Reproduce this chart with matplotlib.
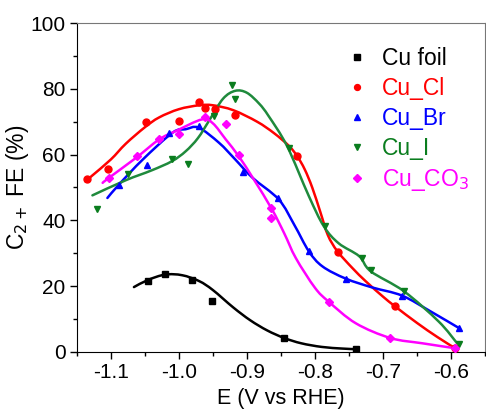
# C2+ Faradaic efficiency vs potential for the Cu catalysts
# markers = measured points, lines = smooth fit curves read off the figure

import matplotlib.pyplot as plt
from matplotlib.path import Path
from matplotlib.patches import PathPatch
from matplotlib.ticker import MultipleLocator

plt.rcParams['font.family'] = ['Liberation Sans', 'DejaVu Sans']

labels = ['Cu foil', 'Cu_Cl', 'Cu_Br', 'Cu_I', 'Cu_CO$_3$']
colors = ['black', '#ff0000', '#0000ff', '#0a7d1e', '#ff00ff']
line_colors = ['black', '#ff0000', '#0000ff', '#1f8a3c', '#ff00ff']
markers = ['s', 'o', '^', 'v', 'D']

# measured points
foil_x = [-1.045, -1.021, -0.980, -0.951, -0.845, -0.739]
foil_y = [21.7, 23.6, 21.8, 15.6, 4.2, 0.8]
cl_x = [-1.135, -1.104, -1.049, -1.000, -0.971, -0.962, -0.947, -0.917, -0.826, -0.766, -0.682, -0.594]
cl_y = [52.6, 55.7, 70.0, 70.2, 76.1, 74.3, 73.8, 72.0, 59.5, 30.4, 13.8, 1.1]
br_x = [-1.088, -1.047, -1.015, -0.971, -0.905, -0.855, -0.809, -0.755, -0.672, -0.588]
br_y = [50.9, 56.8, 66.7, 68.7, 54.8, 46.8, 30.6, 22.3, 17.1, 7.2]
i_x = [-1.120, -1.074, -1.010, -0.987, -0.949, -0.922, -0.918, -0.838, -0.785, -0.731, -0.718, -0.669, -0.588]
i_y = [43.3, 54.2, 58.7, 57.0, 71.7, 81.1, 77.0, 62.1, 38.2, 28.6, 25.0, 18.4, 2.3]
co3_x = [-1.103, -1.061, -1.029, -1.000, -0.962, -0.931, -0.912, -0.864, -0.864, -0.780, -0.689, -0.594]
co3_y = [52.9, 59.5, 64.6, 66.3, 71.5, 69.2, 59.8, 43.8, 40.8, 15.3, 4.2, 1.1]

# fit curves
foil_fx = [-1.066, -1.045, -1.020, -0.995, -0.970, -0.950, -0.920, -0.895, -0.870, -0.845, -0.820, -0.790, -0.760, -0.739]
foil_fy = [19.7, 21.9, 23.5, 23.3, 21.5, 18.8, 13.5, 9.6, 6.5, 4.2, 2.6, 1.5, 1.0, 0.8]
cl_fx = [-1.137, -1.128, -1.100, -1.078, -1.050, -1.029, -1.000, -0.970, -0.950, -0.920, -0.885, -0.860,
         -0.838, -0.826, -0.815, -0.804, -0.792, -0.781, -0.767, -0.745, -0.725, -0.700, -0.682, -0.650, -0.620, -0.594]
cl_fy = [51.8, 53.5, 58.5, 63.3, 68.3, 71.3, 73.8, 75.0, 75.0, 73.5, 70.0, 66.5,
         62.6, 59.5, 55.5, 50.0, 42.5, 35.5, 30.6, 25.5, 21.4, 16.8, 13.8, 8.8, 4.5, 1.1]
br_fx = [-1.105, -1.088, -1.053, -1.009, -0.990, -0.971, -0.941, -0.917, -0.892, -0.853,
         -0.830, -0.809, -0.789, -0.755, -0.716, -0.672, -0.630, -0.588]
br_fy = [46.8, 50.9, 58.5, 66.7, 67.7, 68.2, 63.6, 58.5, 53.0, 46.3,
         38.5, 30.6, 26.0, 22.3, 19.6, 17.1, 12.3, 7.2]
i_fx = [-1.127, -1.078, -1.040, -1.010, -0.990, -0.972, -0.955, -0.935, -0.917, -0.900, -0.882, -0.868, -0.841,
        -0.809, -0.787, -0.765, -0.735, -0.718, -0.669, -0.618, -0.591]
i_fy = [47.6, 52.2, 55.2, 58.0, 61.0, 65.0, 70.5, 77.0, 79.4, 78.8, 75.5, 71.7, 62.6,
        47.4, 38.2, 33.0, 29.1, 24.5, 18.4, 9.2, 2.6]
co3_fx = [-1.112, -1.103, -1.063, -1.029, -1.004, -0.966, -0.950, -0.931, -0.912, -0.890,
          -0.863, -0.845, -0.828, -0.800, -0.780, -0.740, -0.689, -0.642, -0.594]
co3_fy = [51.4, 52.9, 59.0, 64.6, 67.2, 70.7, 69.5, 64.6, 59.5, 52.5,
          43.3, 36.0, 28.5, 19.5, 15.3, 8.7, 4.2, 2.6, 1.1]

points = [(foil_x, foil_y), (cl_x, cl_y), (br_x, br_y), (i_x, i_y), (co3_x, co3_y)]
curves = [(foil_fx, foil_fy), (cl_fx, cl_fy), (br_fx, br_fy), (i_fx, i_fy), (co3_fx, co3_fy)]


def smooth_path(xs, ys):
    # Catmull-Rom through the read points, drawn as cubic Bezier segments
    p = list(zip(xs, ys))
    verts = [p[0]]
    codes = [Path.MOVETO]
    n = len(p)
    for i in range(n - 1):
        p0 = p[i - 1] if i > 0 else p[i]
        p1, p2 = p[i], p[i + 1]
        p3 = p[i + 2] if i + 2 < n else p[i + 1]
        c1 = (p1[0] + (p2[0] - p0[0]) / 6, p1[1] + (p2[1] - p0[1]) / 6)
        c2 = (p2[0] - (p3[0] - p1[0]) / 6, p2[1] - (p3[1] - p1[1]) / 6)
        verts += [c1, c2, p2]
        codes += [Path.CURVE4] * 3
    return Path(verts, codes)


fig = plt.figure(figsize=(4.86, 4.12), dpi=100)
ax = fig.add_axes([0.158, 0.146, 0.840, 0.798])

for (cx, cy), lc in zip(curves, line_colors):
    ax.add_patch(PathPatch(smooth_path(cx, cy), fill=False, edgecolor=lc, lw=1.8,
                           capstyle='round', zorder=2))
for (px, py), c, m, lab in zip(points, colors, markers, labels):
    ms = 4.3 if m == 'D' else 5
    ax.plot(px, py, ls='none', marker=m, color=c, ms=ms, label=lab, zorder=3)

ax.set_xlim(-1.15, -0.55)
ax.set_ylim(0, 100)
ax.xaxis.set_minor_locator(MultipleLocator(0.05))
ax.yaxis.set_major_locator(MultipleLocator(20))
ax.yaxis.set_minor_locator(MultipleLocator(10))
ax.set_xticks([-1.1, -1.0, -0.9, -0.8, -0.7, -0.6])
ax.set_xticklabels(['-1.1', '-1.0', '-0.9', '-0.8', '-0.7', '-0.6'])
ax.tick_params(which='major', direction='out', length=5, width=1, labelsize=15, pad=3)
ax.tick_params(which='minor', direction='out', length=3, width=1)
for s in ['top', 'right']:
    ax.spines[s].set_color('#777777')

ax.set_xlabel('E (V vs RHE)', fontsize=15.5, labelpad=4)
ax.set_ylabel('C$_{2+}$ FE (%)', fontsize=16.5, labelpad=0)

leg = ax.legend(loc='upper right', frameon=False, fontsize=16.5, handlelength=0.6,
                handletextpad=0.8, labelspacing=0.3, borderaxespad=0.3,
                markerscale=0.85, bbox_to_anchor=(1.0, 0.975))
for txt, c in zip(leg.get_texts(), colors):
    txt.set_color(c)

fig.savefig('out.png', dpi=100)
